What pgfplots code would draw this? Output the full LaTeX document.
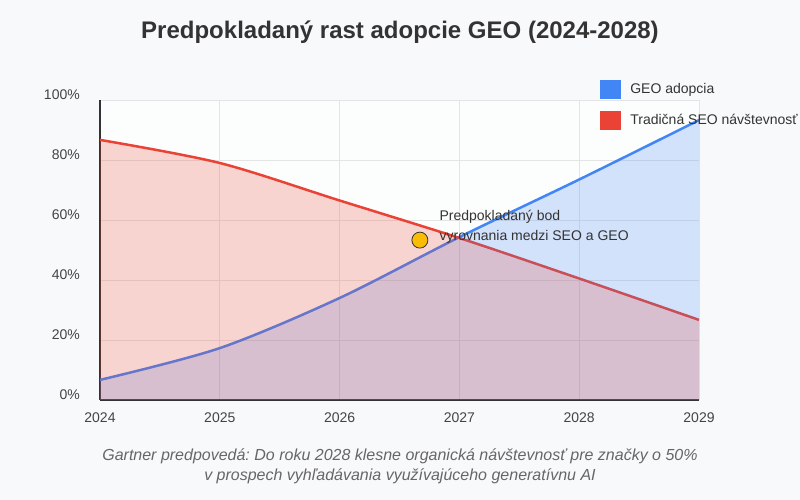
\documentclass[border=0pt]{standalone}
\usepackage{pgfplots}
\pgfplotsset{compat=1.18}
\usepackage{fontspec}
\setmainfont{Liberation Sans}
\frenchspacing
\definecolor{geoblue}{HTML}{4285F4}
\definecolor{seored}{HTML}{EA4335}
\definecolor{bgc}{HTML}{F8F9FA}
\definecolor{txt}{HTML}{333333}
\definecolor{tick}{HTML}{444444}
\definecolor{capc}{HTML}{666666}
\definecolor{gridc}{HTML}{E4E4E4}
\definecolor{yel}{HTML}{FBBC05}
\begin{document}
\begin{tikzpicture}
\path[use as bounding box, fill=bgc] (0pt,0pt) rectangle (800pt,500pt);
\node[font=\fontsize{24}{28}\selectfont\bfseries, text=txt] at (400pt,468pt) {Predpokladaný rast adopcie GEO (2024-2028)};
\node[font=\fontsize{16}{20}\selectfont\itshape, text=capc, align=center] at (400pt,34pt) {Gartner predpovedá: Do roku 2028 klesne organická návštevnosť pre značky o 50\%\\v prospech vyhľadávania využívajúceho generatívnu AI};
\begin{axis}[
  scale only axis, width=599pt, height=300pt,
  at={(100pt,100pt)}, anchor=south west,
  xmin=2024, xmax=2029, ymin=0, ymax=100,
  axis x line*=bottom, axis y line*=left,
  axis line style={draw=txt, line width=1.5pt, -},
  axis background/.style={fill=white!60!bgc},
  grid=major, grid style={gridc, line width=0.8pt},
  major tick length=0pt, tick style={draw=none},
  xtick={2024,2025,2026,2027,2028,2029},
  xticklabels={2024,2025,2026,2027,2028,2029},
  ytick={0,20,40,60,80,100},
  yticklabels={0\%,20\%,40\%,60\%,80\%,100\%},
  ticklabel style={font=\fontsize{14}{16}\selectfont, text=tick, inner sep=0pt},
  xticklabel style={anchor=base, yshift=-23pt},
  yticklabel style={anchor=base east, xshift=-20pt},
  legend style={at={(0.8343,1.0663)}, anchor=north west, draw=none, fill=none,
    inner sep=0pt, row sep=12pt, column sep=10pt,
    nodes={inner sep=0pt, anchor=west, font=\fontsize{14}{16}\selectfont, text=txt}},
  legend cell align=left,
]
\addlegendimage{legend image code/.code={\fill[geoblue] (0pt,-9pt) rectangle (20pt,9pt);}}
\addlegendentry{GEO adopcia}
\addlegendimage{legend image code/.code={\fill[seored] (0pt,-9pt) rectangle (20pt,9pt);}}
\addlegendentry{Tradičná SEO návštevnosť}
% lines
\addplot[geoblue, line width=2.5pt, smooth, forget plot] coordinates {(2024,6.7) (2025,17.3) (2026,34) (2027,54.3) (2028,73.5) (2029,93.3)};
\addplot[seored, line width=2.5pt, smooth, forget plot] coordinates {(2024,86.7) (2025,79) (2026,66.5) (2027,54) (2028,40.5) (2029,26.7)};
% fills
\addplot[draw=none, fill=geoblue, fill opacity=0.22, smooth, forget plot] coordinates {(2024,6.7) (2025,17.3) (2026,34) (2027,54.3) (2028,73.5) (2029,93.3)} \closedcycle;
\addplot[draw=none, fill=seored, fill opacity=0.22, smooth, forget plot] coordinates {(2024,86.7) (2025,79) (2026,66.5) (2027,54) (2028,40.5) (2029,26.7)} \closedcycle;
% crossover marker
\addplot[only marks, mark=*, mark size=8pt, mark options={fill=yel, draw=txt, line width=0.8pt}, forget plot] coordinates {(2026.67,53.3)};
\node[anchor=west, align=left, font=\fontsize{14}{20}\selectfont, text=txt, inner sep=0pt] at (axis cs:2026.833,57.67) {Predpokladaný bod\\vyrovnania medzi SEO a GEO};
\end{axis}
\end{tikzpicture}
\end{document}
